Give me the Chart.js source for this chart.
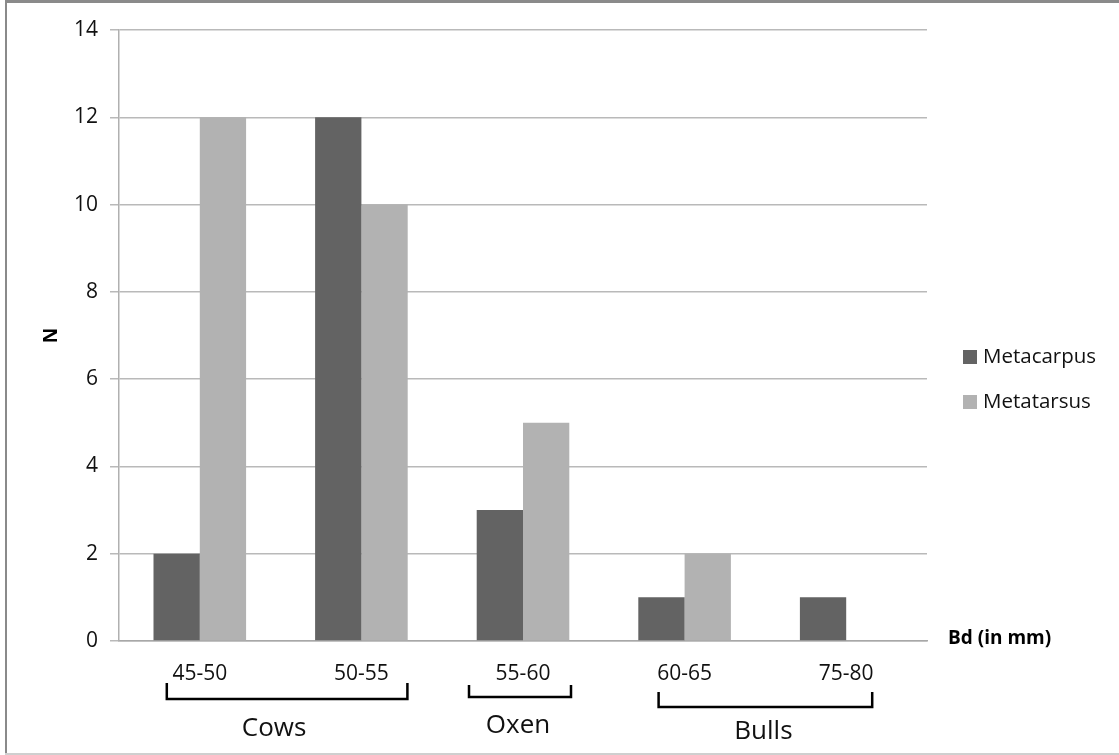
<!DOCTYPE html>
<html>
<head>
<meta charset="utf-8">
<script src="https://cdn.jsdelivr.net/npm/chart.js@4/dist/chart.umd.min.js"></script>
<style>
  body { margin: 0; background: #fff; }
  canvas { display: block; }
</style>
</head>
<body>
<canvas id="bdChart" width="1119" height="755"></canvas>
<script>
// Dados do gráfico
const categories = ["45-50", "50-55", "55-60", "60-65", "75-80"];
const metacarpus = [2, 12, 3, 1, 1];
const metatarsus = [12, 10, 5, 2, 0];
const yTicks = [0, 2, 4, 6, 8, 10, 12, 14];

// Grupos sob o eixo x (indices das categorias)
const groupNames = ["Cows", "Oxen", "Bulls"];
const groupFirst = [0, 2, 3];
const groupLast = [1, 2, 4];

const FONT = "'Open Sans', 'DejaVu Sans', sans-serif";

// Moldura da imagem
const framePlugin = {
  id: "frame",
  beforeDraw(chart) {
    const ctx = chart.ctx;
    ctx.save();
    ctx.fillStyle = "#fff";
    ctx.fillRect(0, 0, chart.width, chart.height);
    ctx.fillStyle = "#8a8a8a";
    ctx.fillRect(5, 0, chart.width - 5, 3);
    ctx.fillRect(5, 0, 2, chart.height - 2);
    ctx.fillStyle = "#cfcfcf";
    ctx.fillRect(5, chart.height - 2, chart.width - 5, 2);
    ctx.restore();
  },
};

// Colchetes, legenda e título do eixo x
const extrasPlugin = {
  id: "extras",
  afterDraw(chart) {
    const ctx = chart.ctx;
    const x = chart.scales.x;
    const area = chart.chartArea;
    // ajustes finos de cada colchete [esq, dir, topo, base, dxTexto, dyTexto]
    const shape = [
      [33, 46, 42, 58, -13, 88],
      [54, 48, 44, 56, -2, 85],
      [26, 26, 51, 66, -2, 91],
    ];
    ctx.save();
    ctx.strokeStyle = "#000";
    ctx.lineWidth = 2.5;
    ctx.fillStyle = "#111";
    ctx.font = "26px " + FONT;
    ctx.textAlign = "center";
    ctx.textBaseline = "middle";
    groupNames.forEach((name, i) => {
      const s = shape[i];
      const x0 = x.getPixelForValue(groupFirst[i]) - s[0];
      const x1 = x.getPixelForValue(groupLast[i]) + s[1];
      const yt = area.bottom + s[2];
      const yb = area.bottom + s[3];
      ctx.beginPath();
      ctx.moveTo(x0, yt);
      ctx.lineTo(x0, yb);
      ctx.lineTo(x1, yb);
      ctx.lineTo(x1, yt);
      ctx.stroke();
      ctx.fillText(name, (x0 + x1) / 2 + s[4], area.bottom + s[5]);
    });

    // título do eixo x
    ctx.font = "bold 19px " + FONT;
    ctx.textAlign = "left";
    ctx.fillStyle = "#000";
    ctx.fillText("Bd (in mm)", area.right + 21, area.bottom - 2);

    // legenda
    ctx.font = "20.5px " + FONT;
    const legendY = [357, 402];
    chart.data.datasets.forEach((ds, i) => {
      ctx.fillStyle = ds.backgroundColor;
      ctx.fillRect(963, legendY[i] - 7, 14, 14);
      ctx.fillStyle = "#111";
      ctx.fillText(ds.label, 983, legendY[i]);
    });
    ctx.restore();
  },
};

const ctx = document.getElementById("bdChart").getContext("2d");
const bdChart = new Chart(ctx, {
  type: "bar",
  data: {
    labels: categories,
    datasets: [
      {
        label: "Metacarpus",
        data: metacarpus,
        backgroundColor: "#636363",
      },
      {
        label: "Metatarsus",
        data: metatarsus,
        backgroundColor: "#b2b2b2",
      },
    ],
  },
  options: {
    responsive: false,
    animation: false,
    devicePixelRatio: 1,
    categoryPercentage: 0.573,
    barPercentage: 1,
    layout: {
      padding: { top: 30, right: 192, left: 0, bottom: 0 },
    },
    plugins: {
      legend: { display: false },
      tooltip: { enabled: false },
    },
    scales: {
      x: {
        grid: { display: false, drawTicks: false },
        border: { display: true, color: "#a8a8a8", width: 1.5 },
        ticks: {
          color: "#111",
          font: { family: FONT, size: 21 },
          padding: 20,
        },
        afterFit(scale) {
          scale.height = 114;
        },
      },
      y: {
        min: 0,
        max: 14,
        afterBuildTicks(scale) {
          scale.ticks = yTicks.map((v) => ({ value: v }));
        },
        grid: {
          color: "#b9b9b9",
          tickColor: "#b9b9b9",
          tickLength: 9,
          lineWidth: 1.5,
        },
        border: { display: true, color: "#b0b0b0", width: 1.5 },
        ticks: {
          color: "#111",
          font: { family: FONT, size: 21 },
          padding: 12,
        },
        title: {
          display: true,
          text: "N",
          color: "#000",
          font: { family: FONT, size: 19, weight: "bold" },
          padding: { top: 40, bottom: 0 },
        },
        afterFit(scale) {
          scale.width = 119;
        },
      },
    },
  },
  plugins: [framePlugin, extrasPlugin],
});
</script>
</body>
</html>
